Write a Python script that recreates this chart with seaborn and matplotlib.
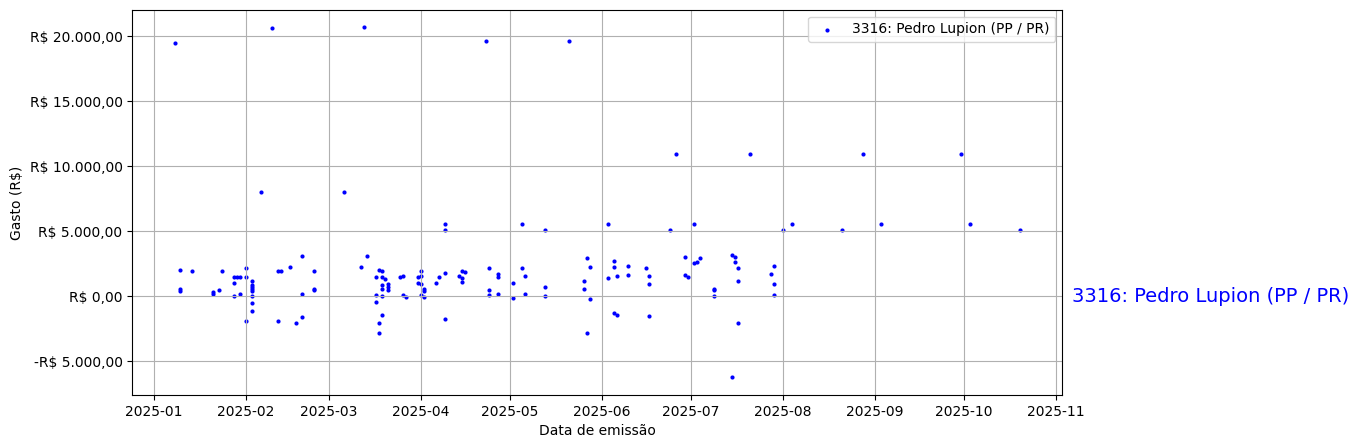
import numpy as np
import pandas as pd
import matplotlib
matplotlib.use("Agg")
import matplotlib.pyplot as plt
import matplotlib.ticker as mticker
import seaborn as sns

deputado = "3316: Pedro Lupion (PP / PR)"

datas = [
    "2025-01-08", "2025-01-10", "2025-01-10", "2025-01-10", "2025-01-14",
    "2025-01-21", "2025-01-21", "2025-01-23", "2025-01-24",
    "2025-01-28", "2025-01-28", "2025-01-28", "2025-01-29", "2025-01-30", "2025-01-30",
    "2025-02-01", "2025-02-01", "2025-02-01",
    "2025-02-03", "2025-02-03", "2025-02-03", "2025-02-03", "2025-02-03", "2025-02-03",
    "2025-02-03", "2025-02-03",
    "2025-02-06", "2025-02-10", "2025-02-12", "2025-02-12", "2025-02-13", "2025-02-16",
    "2025-02-18", "2025-02-20", "2025-02-20", "2025-02-20", "2025-02-24", "2025-02-24",
    "2025-02-24",
    "2025-03-06", "2025-03-12", "2025-03-13", "2025-03-14",
    "2025-03-17", "2025-03-17", "2025-03-17",
    "2025-03-18", "2025-03-18", "2025-03-18",
    "2025-03-19", "2025-03-19", "2025-03-19", "2025-03-19", "2025-03-19", "2025-03-19",
    "2025-03-20", "2025-03-21", "2025-03-21", "2025-03-21",
    "2025-03-25", "2025-03-26", "2025-03-26", "2025-03-27",
    "2025-03-31", "2025-03-31",
    "2025-04-01", "2025-04-01", "2025-04-01", "2025-04-01",
    "2025-04-02", "2025-04-02", "2025-04-02",
    "2025-04-06", "2025-04-07",
    "2025-04-09", "2025-04-09", "2025-04-09", "2025-04-09",
    "2025-04-14", "2025-04-15", "2025-04-15", "2025-04-15", "2025-04-16",
    "2025-04-23", "2025-04-24", "2025-04-24", "2025-04-24",
    "2025-04-27", "2025-04-27", "2025-04-27",
    "2025-05-02", "2025-05-02", "2025-05-05", "2025-05-05", "2025-05-06", "2025-05-06",
    "2025-05-13", "2025-05-13", "2025-05-13", "2025-05-21",
    "2025-05-26", "2025-05-26", "2025-05-27", "2025-05-27", "2025-05-28", "2025-05-28",
    "2025-06-03", "2025-06-03",
    "2025-06-05", "2025-06-05", "2025-06-05", "2025-06-06", "2025-06-06",
    "2025-06-10", "2025-06-10", "2025-06-16",
    "2025-06-17", "2025-06-17", "2025-06-17",
    "2025-06-24", "2025-06-26", "2025-06-29", "2025-06-29", "2025-06-30",
    "2025-07-02", "2025-07-02", "2025-07-03", "2025-07-04",
    "2025-07-09", "2025-07-09", "2025-07-09",
    "2025-07-15", "2025-07-15", "2025-07-16", "2025-07-16",
    "2025-07-17", "2025-07-17", "2025-07-17", "2025-07-21",
    "2025-07-28", "2025-07-29", "2025-07-29", "2025-07-29",
    "2025-08-01", "2025-08-04", "2025-08-21", "2025-08-28", "2025-09-03",
    "2025-09-30", "2025-10-03", "2025-10-20",
]

gastos = [
    19440, 1977, 515, 360, 1900,
    330, 180, 435, 1900,
    1460, 975, 0, 1460, 1460, 130,
    2150, 1460, -1950,
    1130, 820, 670, 515, 360, 0,
    -560, -1180,
    7980, 20590, 1900, -1950, 1900, 2230,
    -2100, 3050, 130, -1640, 1900, 515,
    470,
    7980, 2230, 20670, 3050,
    1460, 50, -480,
    1980, -2100, -2850,
    1900, 1460, 820, 515, 0, -1480,
    1280, 900, 670, 440,
    1460, 1540, 50, -100,
    1460, 975,
    1900, 1540, 900, 50,
    515, 360, -100,
    975, 1460,
    5050, 5515, 1745, -1790,
    1540, 1900, 1360, 1050, 1820,
    19590, 2150, 435, 50,
    1670, 1440, 130,
    975, -180, 5515, 2150, 1540, 130,
    5050, 670, 0, 19590,
    1130, 515, 2900, -2850, 2230, -250,
    5515, 1360,
    2670, 2210, -1310, 1510, -1480,
    2280, 1590, 2130,
    1510, 900, -1560,
    5050, 10900, 2975, 1590, 1440,
    5515, 2515, 2590, 2900,
    515, 440, 0,
    3130, -6250, 2975, 2590,
    2130, 1130, -2100, 10900,
    1670, 2280, 900, 50,
    5050, 5515, 5050, 10900, 5515,
    10900, 5515, 5050,
]

df = pd.DataFrame({"data": pd.to_datetime(datas), "gasto": gastos})


def reais(v, pos):
    s = f"{abs(v):,.2f}".replace(",", "X").replace(".", ",").replace("X", ".")
    return ("-R\\$ " if v < 0 else "R\\$ ") + s


fig, ax = plt.subplots(figsize=(12, 5), dpi=100)
sns.scatterplot(data=df, x="data", y="gasto", color="blue", s=9, linewidth=0,
                label=deputado, ax=ax)

ax.yaxis.set_major_formatter(mticker.FuncFormatter(reais))
ax.set_xlabel("Data de emissão")
ax.set_ylabel("Gasto (R\\$)")
ax.grid(True)
ax.legend(loc="upper right")

ax.text(1.01, 0, deputado, transform=ax.get_yaxis_transform(), color="blue",
        fontsize=14, va="center", ha="left")

plt.savefig("out.png", dpi=100, bbox_inches="tight")
